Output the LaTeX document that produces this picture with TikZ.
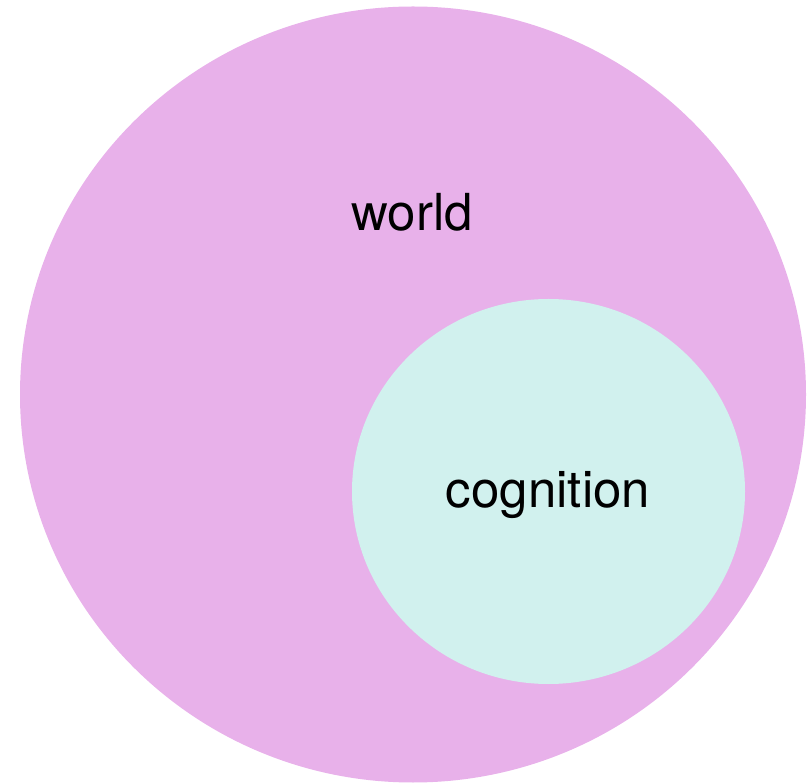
\documentclass[tikz,border=0pt]{standalone}
\usepackage{fontspec}
\setmainfont{TeX Gyre Heros}
\definecolor{worldpink}{HTML}{E8B1EA}
\definecolor{cogcyan}{HTML}{D1F1EE}
\begin{document}
\begin{tikzpicture}[x=1pt,y=1pt,
  lbl/.style={font=\fontsize{51}{60}\selectfont, text=black}]
\useasboundingbox (0,0) rectangle (811,782);
\fill[worldpink] (413,387.5) ellipse [x radius=393, y radius=388];
\fill[cogcyan] (548.5,290.5) ellipse [x radius=196.5, y radius=192.5];
\node[lbl] (world) at (412,570) {world};
\node[lbl] (cognition) at (548,287) {cognition};
\end{tikzpicture}
\end{document}
